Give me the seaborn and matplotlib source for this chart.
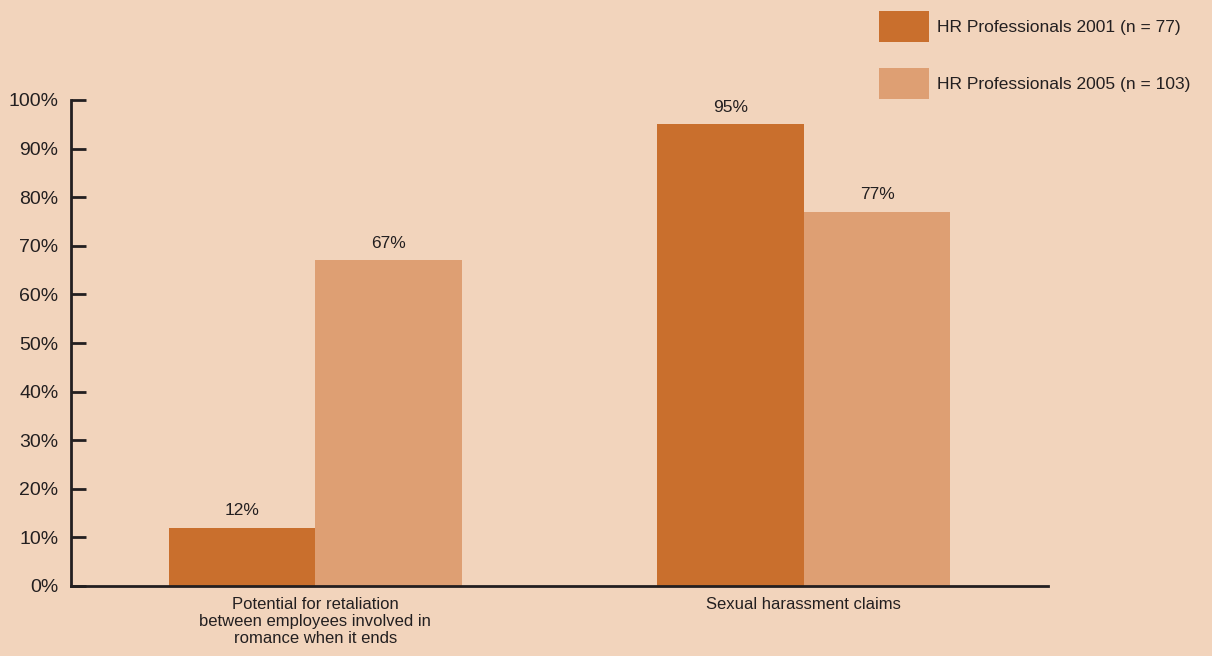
import matplotlib
matplotlib.use("Agg")
import matplotlib.pyplot as plt
import seaborn as sns
import pandas as pd
from matplotlib.patches import Patch
from matplotlib import font_manager

categories = ["Potential for retaliation\nbetween employees involved in\nromance when it ends",
              "Sexual harassment claims"]
series_names = ["HR Professionals 2001 (n = 77)", "HR Professionals 2005 (n = 103)"]
values_2001 = [12, 95]
values_2005 = [67, 77]
yticks = [0, 10, 20, 30, 40, 50, 60, 70, 80, 90, 100]

colors = ["#C96F2D", "#DE9F73"]
bg = "#F2D4BC"
txt = "#231F20"

sns.set_theme(style="white")
fams = [f.name for f in font_manager.fontManager.ttflist]
main_font = "Liberation Sans Narrow" if "Liberation Sans Narrow" in fams else "Liberation Sans"
plt.rcParams["font.family"] = [main_font, "DejaVu Sans"]

df = pd.DataFrame({
    "category": categories * 2,
    "series": [series_names[0]] * 2 + [series_names[1]] * 2,
    "value": values_2001 + values_2005,
})

fig = plt.figure(figsize=(12.12, 6.56), dpi=100, facecolor=bg)
ax = fig.add_axes([71/1212, 1 - 586/656, (1048-71)/1212, (586-100)/656])
ax.set_facecolor(bg)

sns.barplot(data=df, x="category", y="value", hue="series", palette=colors,
            width=0.6, saturation=1, ax=ax, legend=False, linewidth=0)

for c in ax.containers:
    ax.bar_label(c, labels=[f"{v:.0f}%" for v in c.datavalues], padding=7,
                 fontsize=12.5, color=txt)

ax.set_xlim(-0.5, 1.5)
ax.set_ylim(0, 100)
ax.set_yticks(yticks)
ax.set_yticklabels([f"{t}%" for t in yticks], fontsize=14, color=txt)
ax.tick_params(axis="y", direction="in", length=11, width=2, color=txt, pad=9, left=True)
ax.tick_params(axis="x", length=0, pad=8, labelsize=12, labelcolor=txt)
for lbl in ax.get_xticklabels():
    lbl.set_linespacing(1.15)
ax.set_xlabel("")
ax.set_ylabel("")
for s in ["top", "right"]:
    ax.spines[s].set_visible(False)
for s in ["left", "bottom"]:
    ax.spines[s].set_color(txt)
    ax.spines[s].set_linewidth(2)

handles = [Patch(facecolor=colors[i], edgecolor="none", label=series_names[i]) for i in range(2)]
fig.legend(handles=handles, loc="upper left", bbox_to_anchor=(874/1212, 1 - 6/656),
           frameon=False, fontsize=12.5, labelcolor=txt, handlelength=2.85, handleheight=2.35,
           labelspacing=1.5, handletextpad=0.5, borderpad=0.3, borderaxespad=0)

fig.savefig("out.png", dpi=100, facecolor=bg)
